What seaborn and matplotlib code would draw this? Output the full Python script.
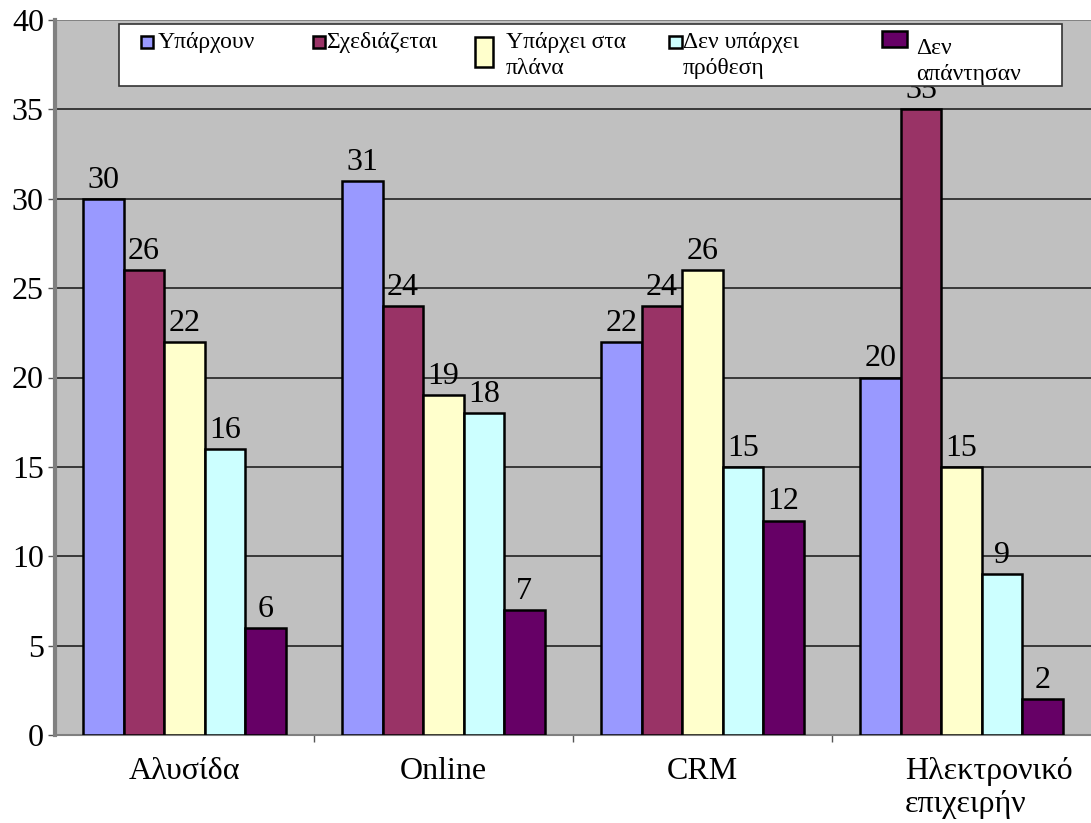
import matplotlib
matplotlib.use("Agg")
import matplotlib.pyplot as plt
import matplotlib.transforms as mtransforms
from matplotlib.patches import Rectangle
import seaborn as sns
import pandas as pd
import numpy as np

categories = ["Αλυσίδα", "Online", "CRM", "Ηλεκτρονικό\nεπιχειρήν"]
series = ["Υπάρχουν", "Σχεδιάζεται", "Υπάρχει στα πλάνα", "Δεν υπάρχει πρόθεση", "Δεν απάντησαν"]
values = {
    "Υπάρχουν": [30, 31, 22, 20],
    "Σχεδιάζεται": [26, 24, 24, 35],
    "Υπάρχει στα πλάνα": [22, 19, 26, 15],
    "Δεν υπάρχει πρόθεση": [16, 18, 15, 9],
    "Δεν απάντησαν": [6, 7, 12, 2],
}
colors = ["#9999FF", "#993366", "#FFFFCC", "#CCFFFF", "#660066"]
legend_lines = [["Υπάρχουν"], ["Σχεδιάζεται"], ["Υπάρχει στα", "πλάνα"],
                ["Δεν υπάρχει", "πρόθεση"], ["Δεν", "απάντησαν"]]

rows = []
for s in series:
    for c, v in zip(categories, values[s]):
        rows.append({"category": c, "series": s, "value": v})
df = pd.DataFrame(rows)

sns.set_style("white")
plt.rcParams["font.family"] = ["Liberation Serif", "DejaVu Serif"]
plt.rcParams["text.color"] = "black"
plt.rcParams["xtick.color"] = "black"
plt.rcParams["ytick.color"] = "black"

W, H = 1091, 823
fig = plt.figure(figsize=(W / 100, H / 100), dpi=100)
ax = fig.add_axes([55 / W, 1 - 735 / H, 1 - 55 / W, (735 - 20) / H])
ax.set_facecolor("#C0C0C0")

sns.barplot(data=df, x="category", y="value", hue="series", order=categories,
            hue_order=series, palette=colors, width=0.78, ax=ax,
            edgecolor="black", linewidth=1.8, saturation=1, legend=False, zorder=3)

ax.set_ylim(0, 40)
ax.set_xlim(-0.5, 3.5)
ax.set_yticks(np.arange(0, 41, 5))
ax.tick_params(axis="y", labelsize=23, length=5, width=1, color="#555555", pad=3,
               direction="out", left=True, labelcolor="black")
ax.set_xticks(range(len(categories)))
ax.set_xticklabels(categories, fontsize=23, color="black", linespacing=1.15)
ax.tick_params(axis="x", length=0, pad=16)
ax.set_xticks([0.5, 1.5, 2.5], minor=True)
ax.tick_params(axis="x", which="minor", length=5, width=1, color="#555555",
               direction="out", bottom=True)
ax.set_xlabel("")
ax.set_ylabel("")

# the two-line last category label is left aligned and sits a bit right of centre
last = ax.get_xticklabels()[-1]
last.set_multialignment("left")
last.set_transform(last.get_transform() +
                   mtransforms.ScaledTranslation(0.27, 0, fig.dpi_scale_trans))

for y in range(5, 41, 5):
    ax.axhline(y, color="#222222" if y < 40 else "#777777", lw=1.2, zorder=1)

for side in ["top", "right"]:
    ax.spines[side].set_visible(False)
ax.spines["left"].set_color("#808080")
ax.spines["left"].set_linewidth(3)
ax.spines["bottom"].set_color("#808080")
ax.spines["bottom"].set_linewidth(1.5)

for cont in ax.containers:
    ax.bar_label(cont, fmt="%d", fontsize=23, padding=3, color="black", zorder=2)


# Legend box drawn in figure pixel space on top of the axes
def fx(px):
    return px / W


def fy(py):
    return 1 - py / H


fig.patches.append(Rectangle((fx(119), fy(86)), fx(1062) - fx(119), fy(24) - fy(86),
                             transform=fig.transFigure, facecolor="white",
                             edgecolor="#333333", lw=1.2, zorder=5))

# (marker x0, y0, x1, y1, text x, first baseline y)
legend_slots = [
    (141, 36, 153, 48, 158, 48),
    (313, 36, 325, 48, 326, 48),
    (475, 37, 493, 67, 506, 48),
    (669, 36, 682, 48, 683, 48),
    (882, 31, 907, 47, 916, 54),
]
for (x0, y0, x1, y1, tx, ty), col, lines in zip(legend_slots, colors, legend_lines):
    fig.patches.append(Rectangle((fx(x0), fy(y1)), fx(x1) - fx(x0), fy(y0) - fy(y1),
                                 transform=fig.transFigure, facecolor=col,
                                 edgecolor="black", lw=1.8, zorder=6))
    for i, line in enumerate(lines):
        fig.text(fx(tx), fy(ty + 26 * i), line, fontsize=17, ha="left",
                 va="baseline", color="black", zorder=6)

fig.savefig("out.png", dpi=100, facecolor="white")
